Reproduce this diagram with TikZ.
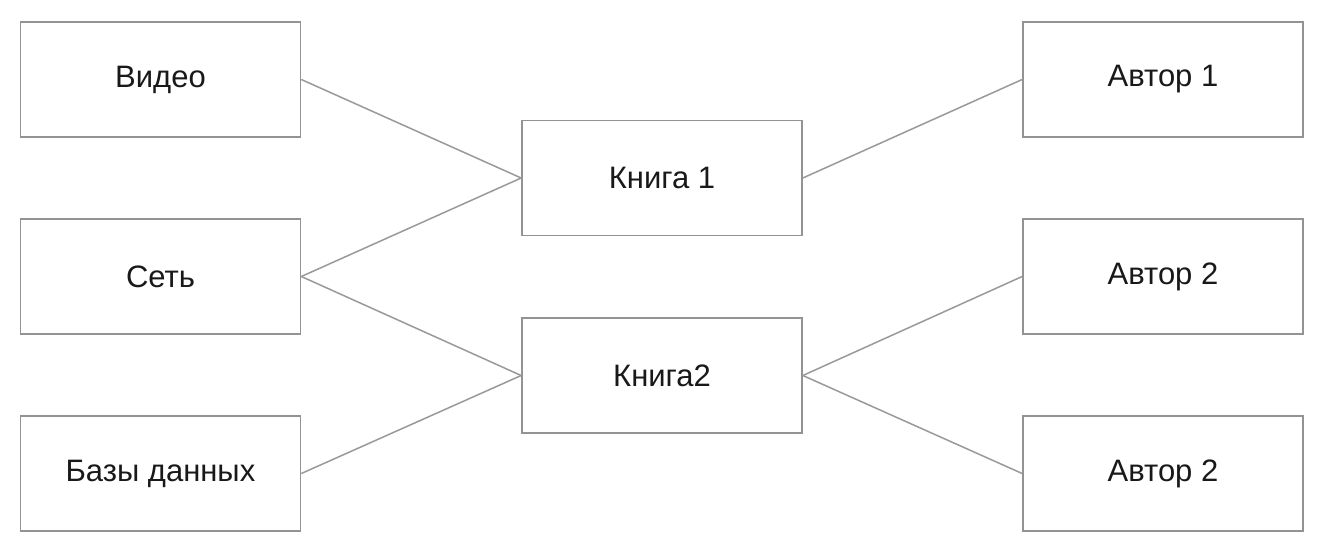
\documentclass[tikz,border=0pt]{standalone}
\usepackage{fontspec}
\setmainfont{Liberation Sans}
\begin{document}
\begin{tikzpicture}[x=1pt,y=-1pt,
  box/.style={draw=gray!85,line width=1.7pt,fill=white,minimum width=280pt,minimum height=115pt,inner sep=0pt,font=\fontsize{31}{36}\selectfont,text=black!90},
  link/.style={draw=gray!80,line width=1.5pt}]
\useasboundingbox (0,0) rectangle (1324,552);
\node[box] (video) at (160.5,79.5) {Видео};
\node[box] (set) at (160.5,276.5) {Сеть};
\node[box] (bazy) at (160.5,473.5) {Базы данных};
\node[box] (k1) at (662,178) {Книга 1};
\node[box] (k2) at (662,375.5) {Книга2};
\node[box] (a1) at (1163,79.5) {Автор 1};
\node[box] (a2) at (1163,276.5) {Автор 2};
\node[box] (a3) at (1163,473.5) {Автор 2};
\draw[link] (video.east) -- (k1.west);
\draw[link] (set.east) -- (k1.west);
\draw[link] (set.east) -- (k2.west);
\draw[link] (bazy.east) -- (k2.west);
\draw[link] (k1.east) -- (a1.west);
\draw[link] (k2.east) -- (a2.west);
\draw[link] (k2.east) -- (a3.west);
\end{tikzpicture}
\end{document}
